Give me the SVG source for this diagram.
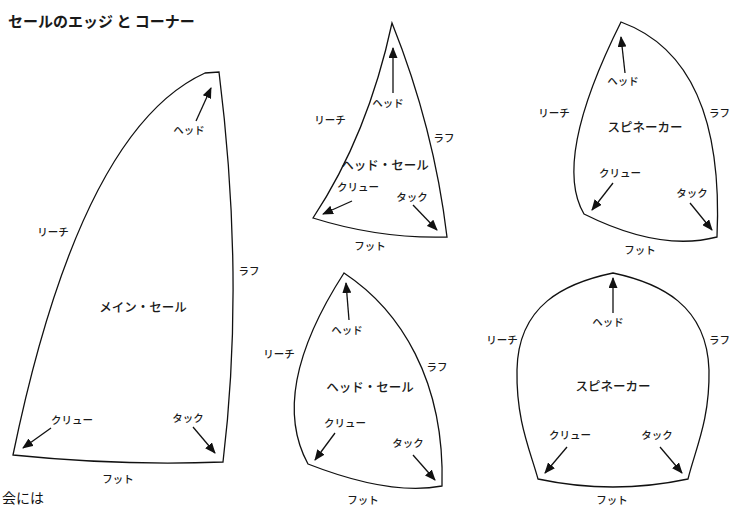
<svg xmlns="http://www.w3.org/2000/svg" width="731" height="507" viewBox="0 0 731 507">
<style>
.sail{fill:#fff;stroke:#111;stroke-width:1.3;stroke-linejoin:miter}
.lbl{font-family:"Noto Sans CJK JP","Noto Sans",sans-serif;font-size:10.5px;font-weight:500;fill:#1a1a1a;text-anchor:middle}
.big{font-family:"Noto Sans CJK JP","Noto Sans",sans-serif;font-size:12.5px;font-weight:500;fill:#1a1a1a;text-anchor:middle}
.title{font-family:"Noto Sans CJK JP","Noto Sans",sans-serif;font-size:15px;fill:#1a1a1a;font-weight:bold}
.arr{stroke:#111;stroke-width:1.3;fill:none;marker-end:url(#ah)}
</style>
<defs>
<marker id="ah" markerUnits="userSpaceOnUse" markerWidth="11" markerHeight="9" refX="10" refY="4.5" orient="auto">
<path d="M0,0 L11,4.5 L0,9 Z" fill="#111"/>
</marker>
</defs>
<rect width="731" height="507" fill="#fff"/>
<text class="title" x="8" y="27">セールのエッジ と コーナー</text>

<g id="main-sail">
<path class="sail" d="M205,73 L219,72 Q245,280 223,462 Q120,466 13,455 Q80,130 205,73 Z"/>
<text class="lbl" x="189" y="134">ヘッド</text>
<text class="lbl" x="53" y="236">リーチ</text>
<text class="lbl" x="249" y="275">ラフ</text>
<text class="big" x="143" y="312">メイン・セール</text>
<text class="lbl" x="72" y="424">クリュー</text>
<text class="lbl" x="188" y="422">タック</text>
<text class="lbl" x="118" y="483">フット</text>
</g>

<g id="head-sail-1">
<path class="sail" d="M392,23 Q434,128 447,237 Q380,239 313,218 Q368,135 392,23 Z"/>
<text class="lbl" x="388" y="107">ヘッド</text>
<text class="lbl" x="330" y="124">リーチ</text>
<text class="lbl" x="444" y="142">ラフ</text>
<text class="big" x="385" y="170">ヘッド・セール</text>
<text class="lbl" x="358" y="191">クリュー</text>
<text class="lbl" x="412" y="201">タック</text>
<text class="lbl" x="370" y="250">フット</text>
</g>

<g id="spinnaker-1">
<path class="sail" d="M621,22 Q725,60 717,237 Q660,252 584,214 Q552,160 621,22 Z"/>
<text class="lbl" x="623" y="85">ヘッド</text>
<text class="lbl" x="554" y="117">リーチ</text>
<text class="lbl" x="709" y="117" style="text-anchor:start">ラフ</text>
<text class="big" x="645" y="132">スピネーカー</text>
<text class="lbl" x="620" y="177">クリュー</text>
<text class="lbl" x="692" y="197">タック</text>
<text class="lbl" x="640" y="254">フット</text>
</g>

<g id="head-sail-2">
<path class="sail" d="M344,273 C400,310 445,380 442,486 Q390,496 308,464 Q268,391 344,273 Z"/>
<text class="lbl" x="347" y="334">ヘッド</text>
<text class="lbl" x="279" y="358">リーチ</text>
<text class="lbl" x="437" y="371">ラフ</text>
<text class="big" x="370" y="392">ヘッド・セール</text>
<text class="lbl" x="345" y="427">クリュー</text>
<text class="lbl" x="408" y="447">タック</text>
<text class="lbl" x="363" y="504">フット</text>
</g>

<g id="spinnaker-2">
<path class="sail" d="M613,273 C660,283 707,305 709,370 C710,420 695,450 688,479 Q613,495 538,479 C530,450 516,420 517,370 C518,305 565,283 613,273 Z"/>
<text class="lbl" x="608" y="326">ヘッド</text>
<text class="lbl" x="502" y="344">リーチ</text>
<text class="lbl" x="709" y="344" style="text-anchor:start">ラフ</text>
<text class="big" x="613" y="391">スピネーカー</text>
<text class="lbl" x="570" y="439">クリュー</text>
<text class="lbl" x="657" y="439">タック</text>
<text class="lbl" x="612" y="504">フット</text>
</g>

<g id="connectors">
<line class="arr" x1="196" y1="121" x2="211" y2="88"/>
<line class="arr" x1="51" y1="428" x2="23" y2="448"/>
<line class="arr" x1="193" y1="427" x2="215" y2="453"/>
<line class="arr" x1="393" y1="93" x2="393" y2="48"/>
<line class="arr" x1="352" y1="201" x2="323" y2="214"/>
<line class="arr" x1="413" y1="205" x2="437" y2="230"/>
<line class="arr" x1="625" y1="73" x2="621" y2="37"/>
<line class="arr" x1="613" y1="183" x2="592" y2="210"/>
<line class="arr" x1="690" y1="203" x2="712" y2="230"/>
<line class="arr" x1="349" y1="320" x2="346" y2="283"/>
<line class="arr" x1="335" y1="433" x2="315" y2="460"/>
<line class="arr" x1="413" y1="455" x2="435" y2="480"/>
<line class="arr" x1="613" y1="313" x2="613" y2="278"/>
<line class="arr" x1="567" y1="447" x2="545" y2="473"/>
<line class="arr" x1="660" y1="447" x2="682" y2="473"/>
</g>

<text x="2" y="503" style="font-family:'Noto Sans CJK JP','Noto Sans',sans-serif;font-size:14px;fill:#111">会には</text>
</svg>
